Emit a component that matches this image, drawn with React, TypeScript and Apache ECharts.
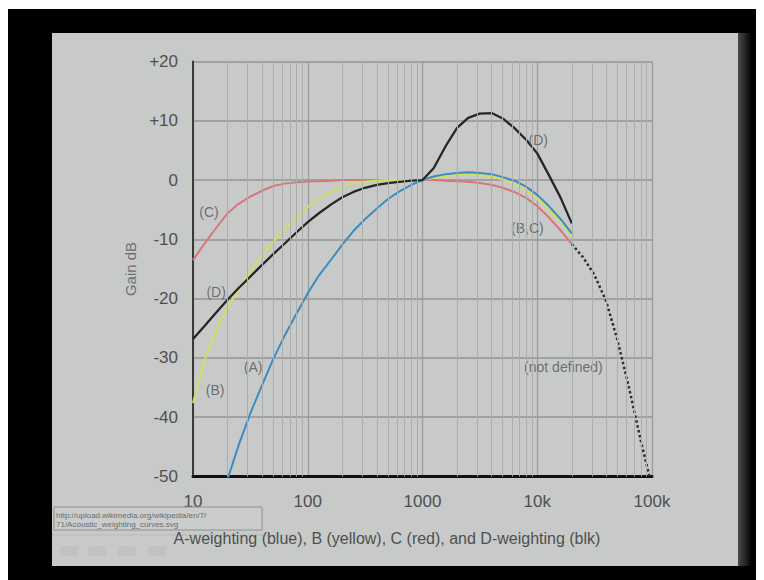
import React, { useEffect, useRef } from "react";
import * as echarts from "echarts";

// ---- data ----
const FREQ = [10, 12.5, 16, 20, 25, 31.5, 40, 50, 63, 80, 100, 125, 160, 200, 250, 315, 400, 500, 630, 800, 1000, 1250, 1600, 2000, 2500, 3150, 4000, 5000, 6300, 8000, 10000, 12500, 16000, 20000];
const A_DB = [-70.4, -63.4, -56.7, -50.5, -44.7, -39.4, -34.6, -30.2, -26.2, -22.5, -19.1, -16.1, -13.4, -10.9, -8.6, -6.6, -4.8, -3.2, -1.9, -0.8, 0, 0.6, 1.0, 1.2, 1.3, 1.2, 1.0, 0.5, -0.1, -1.1, -2.5, -4.3, -6.6, -9.0];
const B_DB = [-37.6, -30.5, -25.3, -21.5, -18.5, -15.5, -12.6, -10.4, -8.3, -6.2, -4.5, -3.1, -2.0, -1.2, -0.6, -0.3, -0.1, 0, 0, 0, 0, 0.4, 0.7, 0.9, 0.9, 0.8, 0.6, 0.1, -0.6, -1.7, -3.1, -4.9, -7.1, -9.6];
const C_DB = [-13.5, -10.8, -8.0, -5.6, -4.0, -2.8, -1.8, -1.0, -0.6, -0.35, -0.25, -0.2, -0.1, 0, 0, 0, 0, 0, 0, 0, 0, 0, -0.1, -0.2, -0.3, -0.5, -0.8, -1.3, -2.0, -3.0, -4.4, -6.2, -8.5, -10.8];
const D_DB = [-26.8, -24.7, -22.3, -20.2, -18.2, -16.3, -14.3, -12.5, -10.7, -8.8, -7.1, -5.6, -4.1, -2.9, -2.0, -1.3, -0.8, -0.5, -0.3, -0.1, 0, 2.0, 5.8, 8.8, 10.5, 11.2, 11.3, 10.4, 8.8, 6.8, 4.5, 1.0, -3.0, -7.3];

const ND_FREQ = [20000, 25000, 31500, 40000, 50000, 63000, 80000, 95000];
const ND_DB = [-10.8, -13, -16, -20.5, -27, -35, -44, -50];

const LABEL_TEXT = ["(C)", "(D)", "(B)", "(A)", "(D)", "(B,C)", "(not defined)"];
const LABEL_FREQ = [13.8, 15.9, 15.6, 33.4, 10200, 8200, 16900];
const LABEL_DB = [-5.4, -18.9, -35.4, -31.5, 6.7, -8.1, -31.5];

const X_TICKS = [10, 100, 1000, 10000, 100000];
const X_TICK_LABELS = ["10", "100", "1000", "10k", "100k"];
const Y_TICKS = [20, 10, 0, -10, -20, -30, -40, -50];
const Y_TICK_LABELS = ["+20", "+10", "0", "-10", "-20", "-30", "-40", "-50"];

const MINOR_FREQ: number[] = [];
[10, 100, 1000, 10000].forEach((d) => {
  for (let m = 2; m <= 9; m++) MINOR_FREQ.push(d * m);
});

const CAPTION = "A-weighting (blue), B (yellow), C (red), and D-weighting (blk)";
const URL1 = "http://upload.wikimedia.org/wikipedia/en/7/";
const URL2 = "71/Acoustic_weighting_curves.svg";

const SLIDE = "#c8cac9";
const TEXT = "#4e504f";
const FONT = "'Liberation Sans', Arial, Helvetica, sans-serif";

const pairs = (xs: number[], ys: number[]) => xs.map((x, i) => [x, ys[i]]);

export default function App() {
  const ref = useRef<HTMLDivElement>(null);
  useEffect(() => {
    if (!ref.current) return;
    const chart = echarts.init(ref.current, undefined, { renderer: "svg" });
    const lineBase = {
      type: "line" as const,
      showSymbol: false,
      symbol: "none",
      smooth: false,
      silent: true,
      z: 3,
    };
    chart.setOption({
      animation: false,
      backgroundColor: "#000",
      grid: { left: 185, right: 112, top: 52.5, bottom: 103.5 },
      xAxis: {
        type: "log",
        logBase: 10,
        min: 10,
        max: 100000,
        axisLine: { show: true, onZero: false, lineStyle: { color: "#111", width: 3 } },
        axisTick: { show: false },
        splitLine: { show: true, lineStyle: { color: "#9a9c9b", width: 1.3 } },
        axisLabel: {
          color: TEXT,
          fontSize: 17,
          fontFamily: FONT,
          margin: 16,
          showMinLabel: true,
          showMaxLabel: true,
          formatter: (v: number) => {
            const i = X_TICKS.findIndex((t) => Math.abs(t - v) / t < 1e-6);
            return i >= 0 ? X_TICK_LABELS[i] : "";
          },
        },
      },
      yAxis: {
        type: "value",
        min: -50,
        max: 20,
        interval: 10,
        name: "Gain dB",
        nameLocation: "middle",
        nameGap: 54,
        nameRotate: 90,
        nameTextStyle: { color: "#6e706f", fontSize: 15, fontFamily: FONT },
        axisLine: { show: true, onZero: false, lineStyle: { color: "#3a3a3a", width: 2 } },
        axisTick: { show: false },
        splitLine: { show: true, lineStyle: { color: "#939594", width: 1.5 } },
        axisLabel: {
          color: TEXT,
          fontSize: 17,
          fontFamily: FONT,
          margin: 15,
          formatter: (v: number) => {
            const i = Y_TICKS.indexOf(v);
            return i >= 0 ? Y_TICK_LABELS[i] : String(v);
          },
        },
      },
      series: [
        {
          type: "line",
          data: [],
          silent: true,
          z: 1,
          markLine: {
            silent: true,
            symbol: ["none", "none"],
            label: { show: false },
            animation: false,
            lineStyle: { color: "#acaead", width: 1, type: "solid" },
            data: MINOR_FREQ.map((f) => ({ xAxis: f })),
          },
        },
        { ...lineBase, name: "C", data: pairs(FREQ, C_DB), lineStyle: { color: "#d9767c", width: 2 } },
        { ...lineBase, name: "B", data: pairs(FREQ, B_DB), lineStyle: { color: "#d3dd62", width: 2 } },
        { ...lineBase, name: "A", data: pairs(FREQ, A_DB), lineStyle: { color: "#3a8cc2", width: 2 } },
        { ...lineBase, name: "D", data: pairs(FREQ, D_DB), lineStyle: { color: "#262626", width: 2.3 } },
        {
          ...lineBase,
          name: "nd",
          data: pairs(ND_FREQ, ND_DB),
          lineStyle: { color: "#2e2e2e", width: 2.5, type: "dotted" },
        },
        {
          type: "scatter",
          silent: true,
          symbolSize: 0,
          z: 4,
          data: LABEL_FREQ.map((f, i) => [f, LABEL_DB[i], LABEL_TEXT[i]]),
          label: {
            show: true,
            position: "inside",
            color: "#555",
            fontSize: 14,
            fontFamily: FONT,
            formatter: (p: any) => p.value[2],
          },
        },
      ],
      graphic: {
        elements: [
          {
            type: "rect",
            z: -100,
            silent: true,
            shape: { x: 44, y: 24, width: 686, height: 533 },
            style: { fill: SLIDE },
          },
          {
            type: "rect",
            z: -100,
            silent: true,
            shape: { x: 730, y: 24, width: 14, height: 533 },
            style: {
              fill: new echarts.graphic.LinearGradient(0, 0, 1, 0, [
                { offset: 0, color: "#4a4a4a" },
                { offset: 1, color: "#000" },
              ]),
            },
          },
          {
            type: "rect",
            z: 100,
            silent: true,
            shape: { x: 46, y: 498, width: 208, height: 23 },
            style: { fill: "#cbcdcc", stroke: "#8e908f", lineWidth: 1 },
          },
          {
            type: "text",
            z: 101,
            silent: true,
            style: { x: 48, y: 506, text: URL1, fill: "#6a6c6b", fontSize: 8, fontFamily: FONT, verticalAlign: "middle" },
          },
          {
            type: "text",
            z: 101,
            silent: true,
            style: { x: 48, y: 515.5, text: URL2, fill: "#6a6c6b", fontSize: 8, fontFamily: FONT, verticalAlign: "middle" },
          },
          {
            type: "line",
            z: 100,
            silent: true,
            shape: { x1: 44, y1: 526, x2: 290, y2: 526 },
            style: { stroke: "#b9bbba", lineWidth: 1 },
          },
          {
            type: "text",
            z: 101,
            silent: true,
            style: {
              x: 379,
              y: 529.5,
              text: CAPTION,
              fill: "#4e504f",
              fontSize: 16,
              fontFamily: FONT,
              align: "center",
              verticalAlign: "middle",
            },
          },
          ...[52, 80, 110, 140].map((x) => ({
            type: "rect",
            z: 100,
            silent: true,
            shape: { x, y: 537, width: 18, height: 10, r: 2 },
            style: { fill: "#c0c2c1" },
          })),
        ],
      },
    });
    return () => chart.dispose();
  }, []);
  return <div ref={ref} style={{ width: 756, height: 571, marginTop: 1 }} />;
}
